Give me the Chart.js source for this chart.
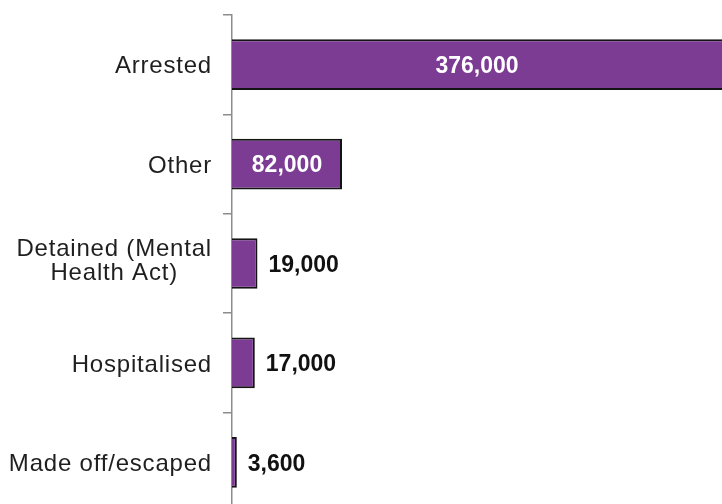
<!DOCTYPE html>
<html>
<head>
<meta charset="utf-8">
<script src="https://cdn.jsdelivr.net/npm/chart.js@4"></script>
<style>
  html, body { margin: 0; padding: 0; overflow: hidden; background: #fff; }
  #wrap { width: 760px; height: 520px; position: relative; }
</style>
</head>
<body>
<div id="wrap"><canvas id="chart"></canvas></div>
<script>
// data
const categories = [['Arrested'], ['Other'], ['Detained (Mental', 'Health Act)'], ['Hospitalised'], ['Made off/escaped']];
const values = [376000, 82000, 19000, 17000, 3600];
const valueLabels = ['376,000', '82,000', '19,000', '17,000', '3,600'];
const labelInside = [true, true, false, false, false];

const FONT = "'Liberation Sans', Arial, sans-serif";

// category labels: block right aligned, lines centred inside the block
const categoryLabels = {
    id: 'categoryLabels',
    afterDraw(chart) {
        const ctx = chart.ctx;
        const yScale = chart.scales.y;
        ctx.save();
        ctx.font = '24px ' + FONT;
        ctx.letterSpacing = '0.8px';
        ctx.fillStyle = '#1f1f1f';
        ctx.textAlign = 'center';
        ctx.textBaseline = 'middle';
        const right = 212;
        const lineH = 23.5;
        categories.forEach((lines, i) => {
            const yc = yScale.getPixelForValue(i) + 2;
            const w = Math.max(...lines.map(l => ctx.measureText(l).width));
            const cx = right - w / 2;
            const top = yc - (lines.length - 1) * lineH / 2 - (lines.length > 1 ? 4 : 0);
            lines.forEach((l, j) => ctx.fillText(l, cx, top + j * lineH));
        });
        ctx.restore();
    }
};

// value labels on / beside the bars
const valueLabelsPlugin = {
    id: 'valueLabels',
    afterDatasetsDraw(chart) {
        const ctx = chart.ctx;
        const meta = chart.getDatasetMeta(0);
        const visibleRight = document.documentElement.clientWidth;
        ctx.save();
        ctx.font = 'bold 23px ' + FONT;
        ctx.textBaseline = 'middle';
        meta.data.forEach((bar, i) => {
            const y = bar.y + 2;
            if (labelInside[i]) {
                const end = Math.min(bar.x, visibleRight);
                ctx.fillStyle = '#ffffff';
                ctx.textAlign = 'center';
                ctx.fillText(valueLabels[i], (bar.base + end) / 2, y);
            } else {
                ctx.fillStyle = '#111111';
                ctx.textAlign = 'left';
                ctx.fillText(valueLabels[i], bar.x + 11, y);
            }
        });
        ctx.restore();
    }
};

new Chart(document.getElementById('chart'), {
    type: 'bar',
    data: {
        labels: categories,
        datasets: [{
            data: values,
            backgroundColor: '#7d3c94',
            borderColor: '#141414',
            borderWidth: 2,
            barPercentage: 0.51,
            categoryPercentage: 1
        }]
    },
    options: {
        indexAxis: 'y',
        responsive: true,
        maintainAspectRatio: false,
        animation: false,
        layout: { padding: { top: 15, bottom: 8, left: 0, right: 0 } },
        scales: {
            x: {
                display: false,
                min: 0,
                max: 393600
            },
            y: {
                z: 1,
                ticks: { display: false },
                grid: {
                    drawOnChartArea: false,
                    drawTicks: true,
                    tickLength: 9,
                    color: '#8c8c8c',
                    lineWidth: 1.5
                },
                border: { color: '#8c8c8c', width: 1.5 },
                afterFit(scale) { scale.width = 232; }
            }
        },
        plugins: {
            legend: { display: false },
            tooltip: { enabled: false }
        }
    },
    plugins: [categoryLabels, valueLabelsPlugin]
});
</script>
</body>
</html>
